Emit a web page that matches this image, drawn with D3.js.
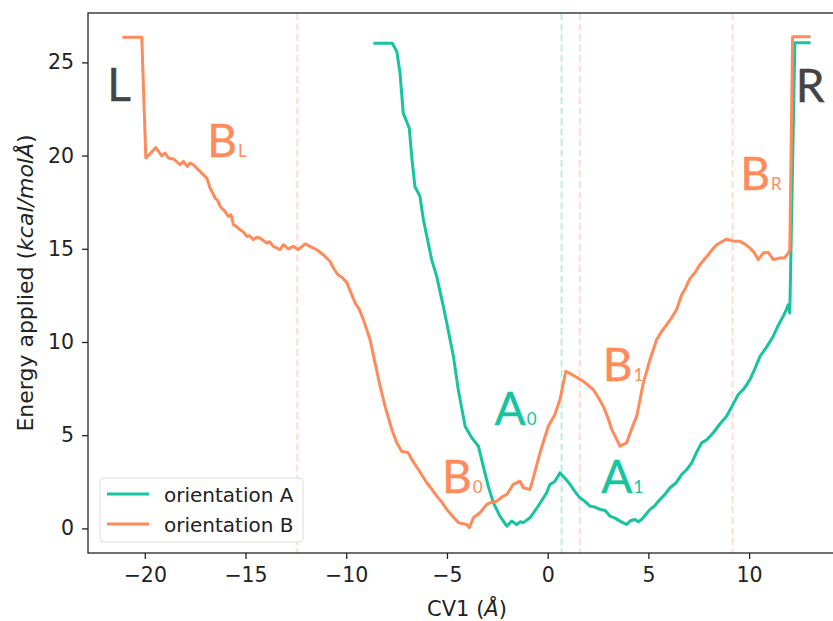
<!DOCTYPE html>
<html>
<head>
<meta charset="utf-8">
<script src="https://cdn.jsdelivr.net/npm/d3@7"></script>
<style>
  body { margin: 0; background: #fff; }
  svg text { font-family: "DejaVu Sans", sans-serif; }
</style>
</head>
<body>
<svg id="chart" width="833" height="621"></svg>
<script>
// DATA: curve points (CV1 in Å, energy in kcal/mol/Å)
const orientA = [
  [-8.65, 26.03], [-7.71, 26.03], [-7.49, 25.58], [-7.33, 24.42], [-7.17, 22.28],
  [-6.87, 21.47], [-6.75, 19.95], [-6.59, 18.34], [-6.34, 17.81], [-6.17, 16.56],
  [-5.93, 15.31], [-5.76, 14.42], [-5.51, 13.52], [-5.18, 11.91], [-5.01, 11.02],
  [-4.68, 9.23], [-4.44, 7.45], [-4.10, 5.48], [-3.77, 4.86], [-3.44, 4.41],
  [-3.20, 3.34], [-2.95, 2.27], [-2.70, 1.38], [-2.37, 0.66], [-2.03, 0.12],
  [-1.79, 0.39], [-1.66, 0.30], [-1.54, 0.21], [-1.35, 0.36], [-1.21, 0.31],
  [-0.88, 0.57], [-0.47, 1.20], [-0.05, 1.91], [0.11, 2.36], [0.35, 2.52],
  [0.61, 2.98], [0.85, 2.70], [1.11, 2.36], [1.35, 1.98], [1.60, 1.64],
  [1.85, 1.45], [2.10, 1.20], [2.35, 1.14], [2.60, 1.02], [2.85, 0.96],
  [3.09, 0.66], [3.35, 0.55], [3.59, 0.39], [3.92, 0.21], [4.10, 0.41],
  [4.33, 0.48], [4.50, 0.36], [4.66, 0.48], [4.85, 0.72], [5.08, 1.02],
  [5.30, 1.20], [5.57, 1.55], [5.80, 1.80], [6.07, 2.18], [6.35, 2.42],
  [6.65, 2.89], [6.90, 3.15], [7.15, 3.52], [7.40, 4.10], [7.64, 4.59],
  [7.90, 4.75], [8.22, 5.13], [8.55, 5.60], [8.88, 6.02], [9.15, 6.55],
  [9.46, 7.18], [9.75, 7.50], [10.04, 7.98], [10.30, 8.60], [10.54, 9.23],
  [10.85, 9.70], [11.20, 10.31], [11.45, 10.90], [11.69, 11.38], [11.83, 11.70],
  [11.94, 12.00], [12.02, 11.56], [12.27, 26.06], [13.05, 26.06]
];

const orientB = [
  [-21.11, 26.35], [-20.15, 26.35], [-19.95, 19.87], [-19.45, 20.43], [-19.16, 19.99],
  [-18.99, 20.13], [-18.83, 19.87], [-18.55, 19.80], [-18.25, 19.51], [-18.08, 19.69],
  [-17.89, 19.42], [-17.75, 19.60], [-17.59, 19.51], [-17.40, 19.30], [-17.26, 19.15],
  [-16.92, 18.79], [-16.76, 18.26], [-16.51, 17.72], [-16.38, 17.60], [-16.26, 17.27],
  [-16.05, 17.05], [-15.85, 16.74], [-15.72, 16.82], [-15.60, 16.29], [-15.40, 16.15],
  [-15.27, 16.02], [-15.10, 15.90], [-14.94, 15.66], [-14.80, 15.70], [-14.61, 15.49],
  [-14.45, 15.62], [-14.28, 15.58], [-13.95, 15.31], [-13.80, 15.38], [-13.62, 15.13],
  [-13.45, 15.05], [-13.29, 14.95], [-13.12, 15.22], [-12.87, 15.00], [-12.63, 15.13],
  [-12.38, 14.95], [-12.04, 15.26], [-11.80, 15.13], [-11.46, 14.95], [-11.14, 14.68],
  [-10.80, 14.32], [-10.60, 13.90], [-10.40, 13.60], [-10.20, 13.45], [-9.98, 13.20],
  [-9.56, 12.10], [-9.35, 11.75], [-9.15, 11.20], [-8.82, 10.13], [-8.57, 8.88],
  [-8.32, 7.63], [-8.07, 6.55], [-7.74, 5.31], [-7.49, 4.59], [-7.25, 4.14],
  [-6.92, 4.06], [-6.75, 3.70], [-6.42, 3.16], [-6.00, 2.45], [-5.75, 2.10],
  [-5.51, 1.73], [-5.25, 1.40], [-5.01, 1.02], [-4.70, 0.62], [-4.44, 0.31],
  [-4.02, 0.21], [-3.89, 0.04], [-3.69, 0.57], [-3.36, 0.84], [-3.03, 1.29],
  [-2.80, 1.40], [-2.53, 1.46], [-2.25, 1.70], [-2.03, 1.82], [-1.71, 2.36],
  [-1.37, 2.53], [-1.21, 2.18], [-0.88, 2.09], [-0.71, 2.72], [-0.38, 4.06],
  [0.03, 5.48], [0.35, 6.10], [0.61, 6.91], [0.90, 8.43], [1.35, 8.16],
  [1.77, 7.89], [2.26, 7.45], [2.50, 7.05], [2.76, 6.55], [3.00, 5.90],
  [3.18, 5.31], [3.59, 4.41], [3.92, 4.59], [4.25, 5.57], [4.42, 6.02],
  [4.75, 7.81], [5.08, 9.06], [5.41, 10.13], [5.65, 10.55], [5.91, 10.93],
  [6.15, 11.30], [6.40, 11.74], [6.65, 12.54], [6.85, 12.90], [7.06, 13.40],
  [7.30, 13.70], [7.56, 14.15], [7.75, 14.40], [7.97, 14.68], [8.20, 15.00],
  [8.39, 15.22], [8.88, 15.52], [9.20, 15.42], [9.54, 15.40], [9.80, 15.25],
  [10.04, 15.04], [10.25, 14.80], [10.45, 14.42], [10.70, 14.77], [10.95, 14.81],
  [11.20, 14.42], [11.53, 14.51], [11.75, 14.50], [11.94, 14.77], [12.02, 14.95],
  [12.16, 26.38], [13.05, 26.38]
];

// vertical dashed markers
const markersA = [0.69];
const markersB = [-12.43, 1.59, 9.18];

const xTicks = [-20, -15, -10, -5, 0, 5, 10];
const yTicks = [0, 5, 10, 15, 20, 25];

// state labels: [main, subscript, x, y, series]
const stateLabels = [
  ["L", "", -21.86, 22.93, "dark"],
  ["R", "", 12.32, 22.89, "dark"],
  ["B", "L", -16.90, 19.94, "B"],
  ["B", "R", 9.56, 18.15, "B"],
  ["B", "1", 2.73, 7.91, "B"],
  ["A", "0", -2.64, 5.55, "A"],
  ["B", "0", -5.25, 1.92, "B"],
  ["A", "1", 2.66, 1.88, "A"]
];

const legendNames = ["orientation A", "orientation B"];

// SETUP
const colA = "#16c4a0", colB = "#ff8a5a", colDark = "#444444";
const colors = { A: colA, B: colB, dark: colDark };

const svg = d3.select("#chart");
const plot = { left: 88, right: 845, top: 13, bottom: 553 };

const x = d3.scaleLinear().domain([-22.82, 14.76]).range([plot.left, plot.right]);
const y = d3.scaleLinear().domain([-1.32, 27.65]).range([plot.bottom, plot.top]);

// dashed markers (behind the curves)
svg.selectAll(".mB").data(markersB).enter().append("line")
  .attr("x1", d => x(d)).attr("x2", d => x(d))
  .attr("y1", plot.top).attr("y2", plot.bottom)
  .attr("stroke", colB).attr("stroke-opacity", 0.3)
  .attr("stroke-width", 2).attr("stroke-dasharray", "7,3.5");

svg.selectAll(".mA").data(markersA).enter().append("line")
  .attr("x1", d => x(d)).attr("x2", d => x(d))
  .attr("y1", plot.top).attr("y2", plot.bottom)
  .attr("stroke", colA).attr("stroke-opacity", 0.3)
  .attr("stroke-width", 2).attr("stroke-dasharray", "7,3.5");

// curves
const line = d3.line().x(d => x(d[0])).y(d => y(d[1]));

svg.append("path").datum(orientA)
  .attr("fill", "none").attr("stroke", colA)
  .attr("stroke-width", 3).attr("stroke-linejoin", "round")
  .attr("d", line);

svg.append("path").datum(orientB)
  .attr("fill", "none").attr("stroke", colB)
  .attr("stroke-width", 3).attr("stroke-linejoin", "round")
  .attr("d", line);

// axes
const xAxis = svg.append("g")
  .attr("transform", `translate(0,${plot.bottom})`)
  .call(d3.axisBottom(x).tickValues(xTicks).tickSize(6).tickPadding(8)
    .tickFormat(d => d < 0 ? "\u2212" + Math.abs(d) : d));

const yAxis = svg.append("g")
  .attr("transform", `translate(${plot.left},0)`)
  .call(d3.axisLeft(y).tickValues(yTicks).tickSize(6).tickPadding(8));

[xAxis, yAxis].forEach(g => {
  g.select(".domain").remove();
  g.selectAll(".tick line").attr("stroke", "#222").attr("stroke-width", 1.3);
  g.selectAll(".tick text").attr("fill", "#222").style("font-size", "20.5px");
});

// frame
svg.append("rect")
  .attr("x", plot.left).attr("y", plot.top)
  .attr("width", plot.right - plot.left).attr("height", plot.bottom - plot.top)
  .attr("fill", "none").attr("stroke", "#222").attr("stroke-width", 1.3);

// axis labels
const xLab = svg.append("text")
  .attr("x", 467).attr("y", 616)
  .attr("text-anchor", "middle").attr("fill", "#222").style("font-size", "21px");
xLab.append("tspan").text("CV1 (");
xLab.append("tspan").style("font-style", "italic").text("\u00c5");
xLab.append("tspan").text(")");

const yLab = svg.append("text")
  .attr("transform", "translate(33,283) rotate(-90)")
  .attr("text-anchor", "middle").attr("fill", "#222").style("font-size", "22px");
yLab.append("tspan").text("Energy applied (");
yLab.append("tspan").style("font-style", "italic").text("kcal/mol\u00c5");
yLab.append("tspan").text(")");

// state labels
stateLabels.forEach(([main, sub, lx, ly, s]) => {
  const t = svg.append("text")
    .attr("x", x(lx)).attr("y", y(ly))
    .attr("fill", colors[s])
    .style("font-family", "Lato, 'Open Sans', sans-serif")
    .style("font-size", "46px");
  t.append("tspan").attr("stroke", colors[s]).attr("stroke-width", 0.4).text(main);
  if (sub) t.append("tspan").attr("dx", 1).style("font-size", "17px").text(sub);
});

// legend
const leg = svg.append("g");
leg.append("rect")
  .attr("x", 100).attr("y", 478).attr("width", 203).attr("height", 64)
  .attr("rx", 4).attr("fill", "#fff").attr("fill-opacity", 0.8)
  .attr("stroke", "#dcdcdc").attr("stroke-width", 1);

legendNames.forEach((name, i) => {
  const yy = 494 + i * 30;
  leg.append("line")
    .attr("x1", 107).attr("x2", 149).attr("y1", yy).attr("y2", yy)
    .attr("stroke", i === 0 ? colA : colB).attr("stroke-width", 3);
  leg.append("text")
    .attr("x", 164).attr("y", yy + 7.5)
    .attr("fill", "#222").style("font-size", "20px")
    .text(name);
});
</script>
</body>
</html>
